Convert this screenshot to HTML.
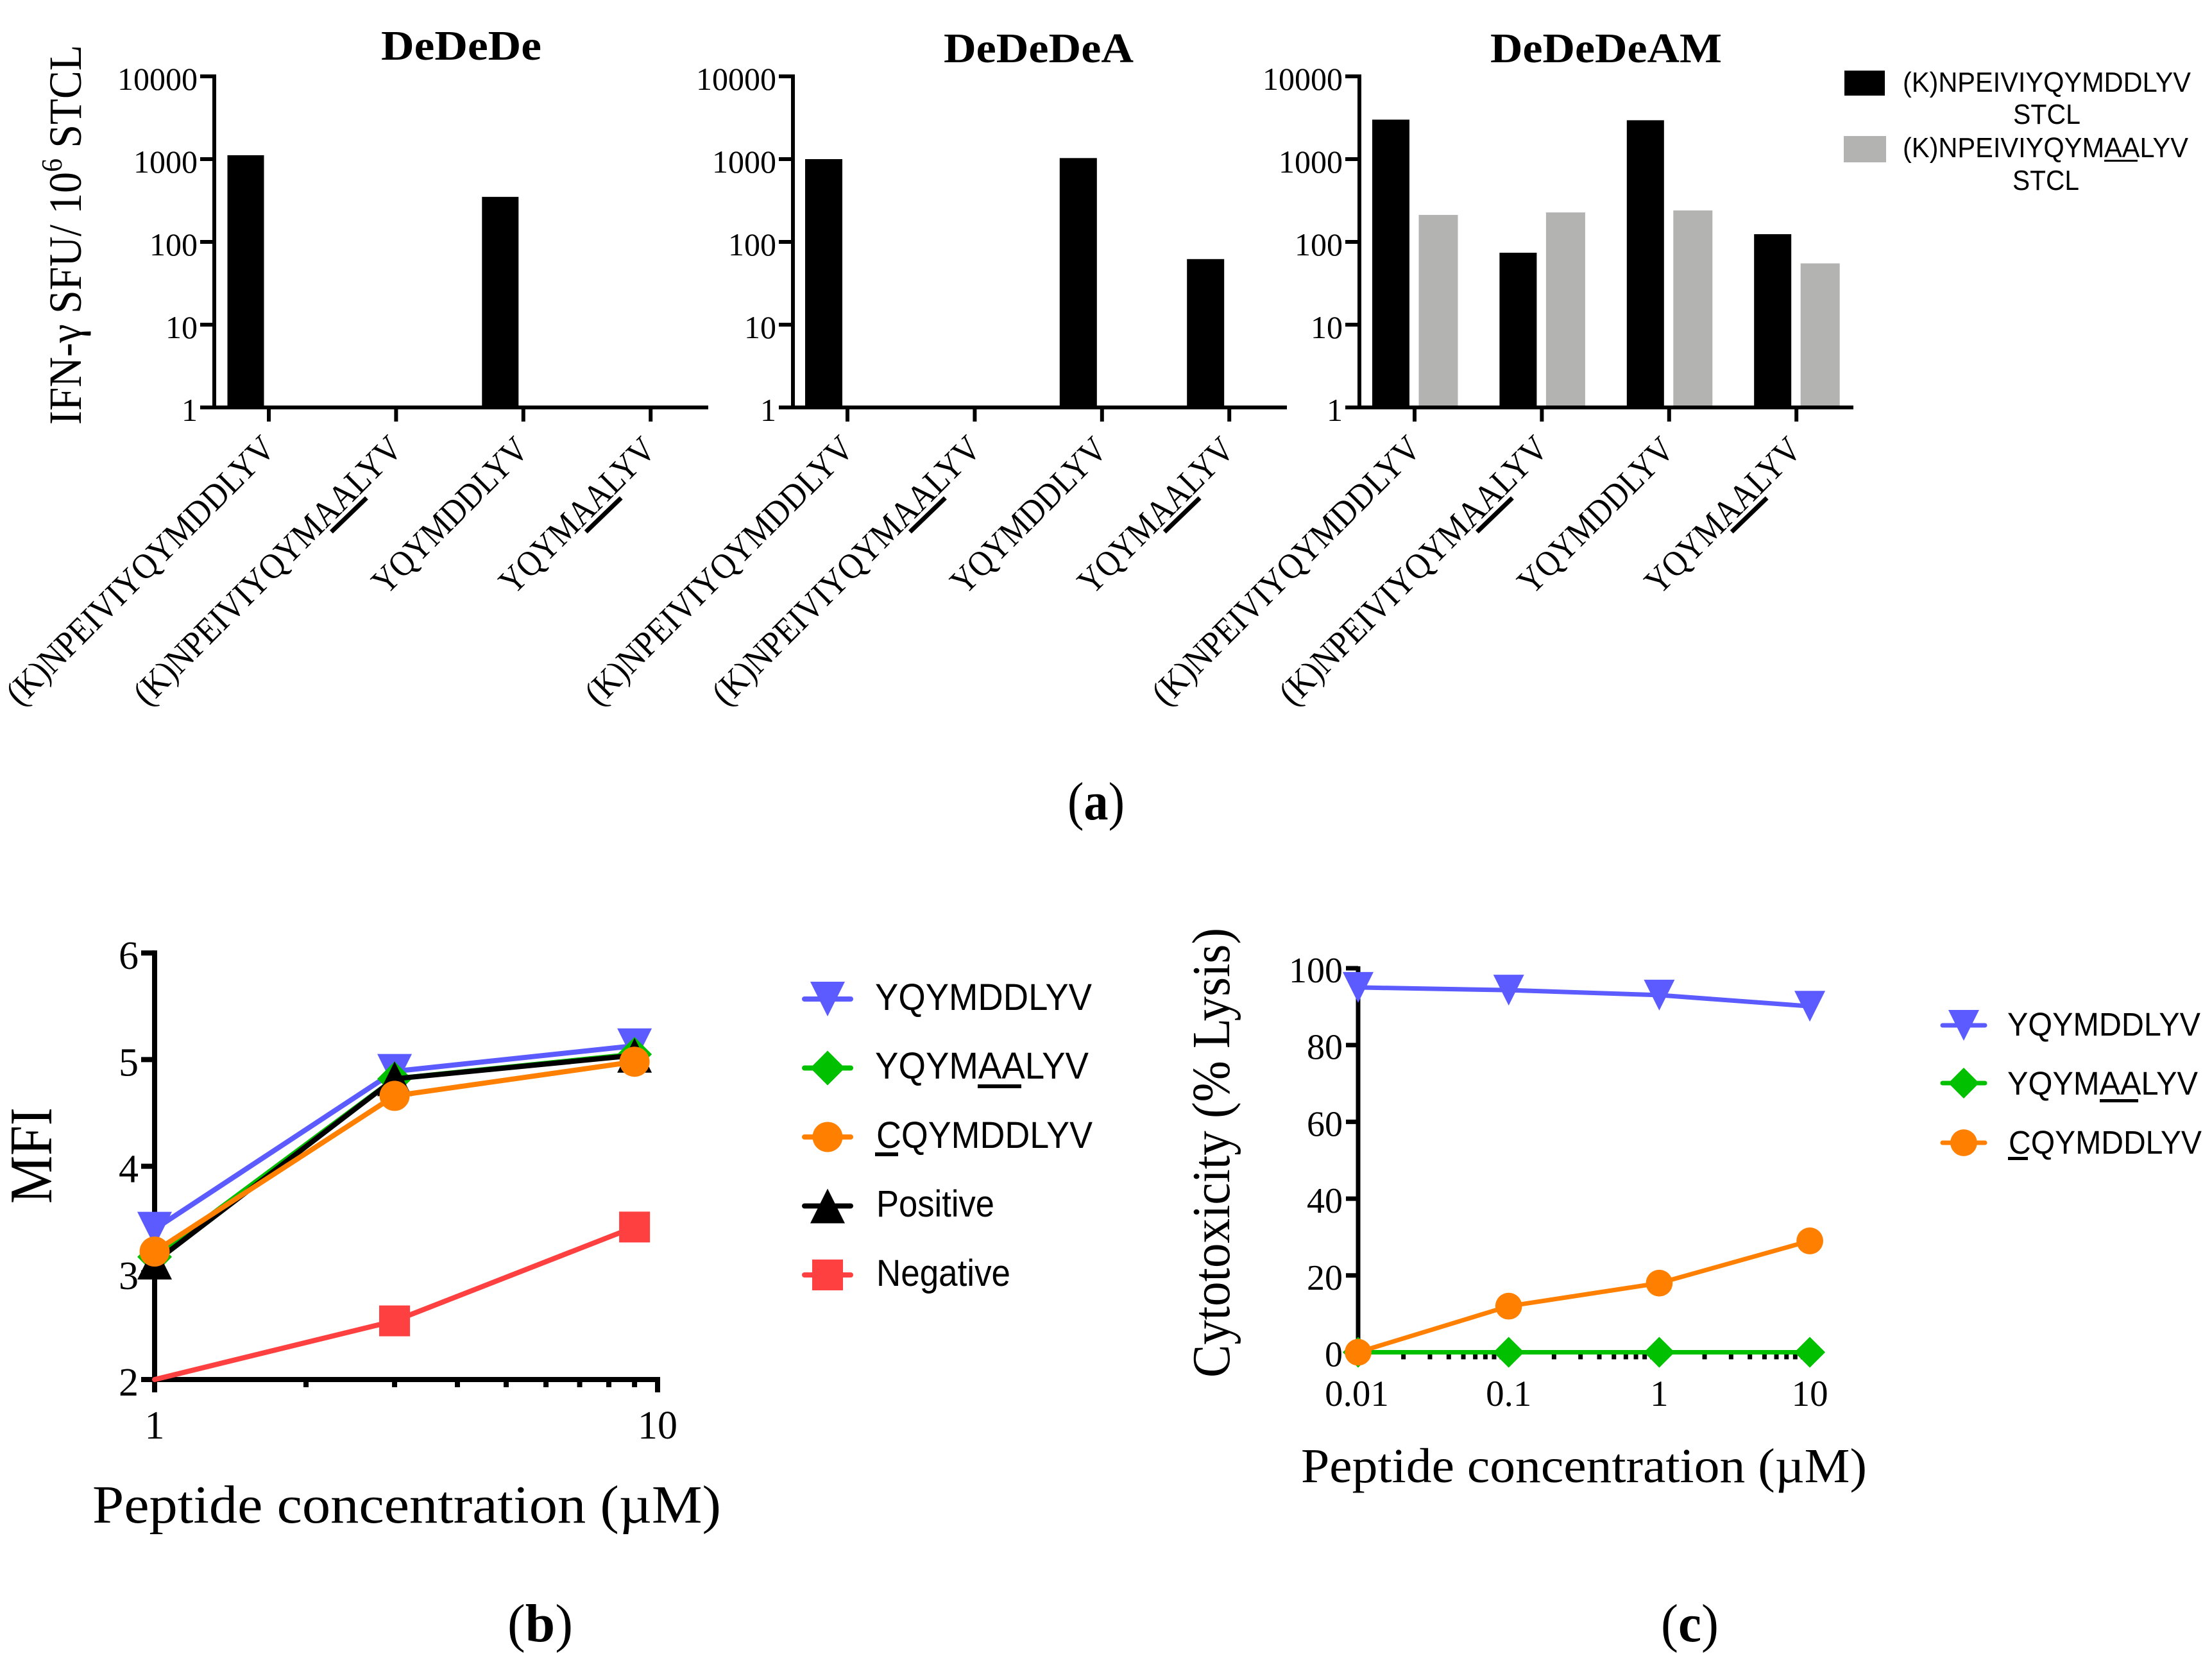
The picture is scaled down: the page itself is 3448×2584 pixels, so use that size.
<!DOCTYPE html>
<html lang="en">
<head>
<meta charset="utf-8">
<title>Peptide immunogenicity figure</title>
<style>
html,body{margin:0;padding:0;background:#fff;}
svg{display:block;}
.serif{font-family:"Liberation Serif",serif;fill:#000;}
.sans{font-family:"Liberation Sans",sans-serif;fill:#000;}
</style>
</head>
<body>
<svg id="figure" xmlns="http://www.w3.org/2000/svg" width="3448" height="2584" viewBox="0 0 3448 2584">
  <rect x="0" y="0" width="3448" height="2584" fill="#fff"/>

  <g id="panel-a"></g>
  <g id="panel-b"></g>
  <g id="panel-c"></g>

  <text class="serif" transform="translate(126,662) rotate(-90)" font-size="72" textLength="592" lengthAdjust="spacingAndGlyphs">IFN-γ SFU/ 10<tspan font-size="46" dy="-30">6</tspan><tspan dy="30"> STCL</tspan></text>
  <text class="serif" x="594" y="93" font-size="66" font-weight="bold" textLength="250" lengthAdjust="spacingAndGlyphs">DeDeDe</text>
  <text class="serif" x="1471" y="97" font-size="66" font-weight="bold" textLength="296" lengthAdjust="spacingAndGlyphs">DeDeDeA</text>
  <text class="serif" x="2323" y="97" font-size="66" font-weight="bold" textLength="361" lengthAdjust="spacingAndGlyphs">DeDeDeAM</text>

  <g>
    <rect x="2875" y="110" width="63" height="39" fill="#000"/>
    <text class="sans" x="2966" y="143" font-size="44" textLength="449" lengthAdjust="spacingAndGlyphs">(K)NPEIVIYQYMDDLYV</text>
    <text class="sans" x="3138" y="193" font-size="44" textLength="105" lengthAdjust="spacingAndGlyphs">STCL</text>
    <rect x="2874" y="212" width="66" height="41" fill="#b3b3b2"/>
    <text class="sans" x="2966" y="245" font-size="44" textLength="445" lengthAdjust="spacingAndGlyphs">(K)NPEIVIYQYMAALYV</text>
    <rect x="3280" y="249" width="52" height="3" fill="#000"/>
    <text class="sans" x="3137" y="296" font-size="44" textLength="104" lengthAdjust="spacingAndGlyphs">STCL</text>
  </g>

  <text class="serif" x="1664" y="1277" font-size="84" textLength="89" lengthAdjust="spacingAndGlyphs">(<tspan font-weight="bold">a</tspan>)</text>

  <text class="serif" transform="translate(80,1876) rotate(-90)" font-size="94" textLength="150" lengthAdjust="spacingAndGlyphs">MFI</text>
  <text class="serif" x="144" y="2373" font-size="84" textLength="980" lengthAdjust="spacingAndGlyphs">Peptide concentration (µM)</text>
  <text class="serif" x="791" y="2558" font-size="84" textLength="102" lengthAdjust="spacingAndGlyphs">(<tspan font-weight="bold">b</tspan>)</text>

  <g id="legend-b">
    <text class="sans" x="1364" y="1574" font-size="58" textLength="338" lengthAdjust="spacingAndGlyphs">YQYMDDLYV</text>
    <text class="sans" x="1364" y="1681" font-size="58" textLength="333" lengthAdjust="spacingAndGlyphs">YQYMAALYV</text>
    <rect x="1524" y="1690" width="68" height="6" fill="#000"/>
    <text class="sans" x="1366" y="1789" font-size="58" textLength="337" lengthAdjust="spacingAndGlyphs">CQYMDDLYV</text>
    <rect x="1364" y="1796" width="36" height="6" fill="#000"/>
    <text class="sans" x="1366" y="1896" font-size="58" textLength="184" lengthAdjust="spacingAndGlyphs">Positive</text>
    <text class="sans" x="1366" y="2004" font-size="58" textLength="209" lengthAdjust="spacingAndGlyphs">Negative</text>
  </g>

  <text class="serif" transform="translate(1916,2147) rotate(-90)" font-size="84" textLength="701" lengthAdjust="spacingAndGlyphs">Cytotoxicity (% Lysis)</text>
  <text class="serif" x="2028" y="2310" font-size="76" textLength="882" lengthAdjust="spacingAndGlyphs">Peptide concentration (µM)</text>
  <text class="serif" x="2589" y="2558" font-size="84" textLength="90" lengthAdjust="spacingAndGlyphs">(<tspan font-weight="bold">c</tspan>)</text>

  <g id="legend-c">
    <text class="sans" x="3129" y="1614" font-size="51" textLength="301" lengthAdjust="spacingAndGlyphs">YQYMDDLYV</text>
    <text class="sans" x="3129" y="1706" font-size="51" textLength="297" lengthAdjust="spacingAndGlyphs">YQYMAALYV</text>
    <rect x="3273" y="1713" width="60" height="5" fill="#000"/>
    <text class="sans" x="3131" y="1798" font-size="51" textLength="301" lengthAdjust="spacingAndGlyphs">CQYMDDLYV</text>
    <rect x="3130" y="1803" width="31" height="5" fill="#000"/>
  </g>
</svg>

<script>
/* Panel (a) data */
const peptideCategories = ['(K)NPEIVIYQYMDDLYV', '(K)NPEIVIYQYMAALYV', 'YQYMDDLYV', 'YQYMAALYV'];
const ifnTicks = [1, 10, 100, 1000, 10000];
const dededeValues = [1115, 1, 350, 1];
const dededeaValues = [1000, 1, 1030, 62];
const dededeamStandardValues = [3000, 74, 2950, 124];
const dededeamMutantValues = [212, 227, 240, 55];

/* Panel (b) data */
const mfiConcentrations = [1, 3, 9];
const mfiYTicks = [2, 3, 4, 5, 6];
const mfiXTicks = [1, 10];
const mfiMinorXTicks = [2, 3, 4, 5, 6, 7, 8, 9];
const mfiYqymddlyv = [3.41, 4.89, 5.13];
const mfiYqymaalyv = [3.15, 4.82, 5.05];
const mfiCqymddlyv = [3.2, 4.66, 4.98];
const mfiPositive = [3.1, 4.82, 5.04];
const mfiNegative = [2, 2.55, 3.43];

/* Panel (c) data */
const lysisConcentrations = [0.01, 0.1, 1, 10];
const lysisYTicks = [0, 20, 40, 60, 80, 100];
const lysisXTicks = [0.01, 0.1, 1, 10];
const lysisMinorMultipliers = [2, 3, 4, 5, 6, 7, 8, 9];
const lysisYqymddlyv = [95, 94.3, 93, 90.1];
const lysisYqymaalyv = [0, 0, 0, 0];
const lysisCqymddlyv = [0, 12, 18, 29];

const BLUE = '#5b5bff', GREEN = '#00c000', ORANGE = '#ff8000', RED = '#ff4040', BLACK = '#000', GRAY = '#b3b3b2';
const NS = 'http://www.w3.org/2000/svg';

function make(tag, attrs, parent, text) {
  const el = document.createElementNS(NS, tag);
  for (const k in attrs) el.setAttribute(k, attrs[k]);
  if (text !== undefined) el.textContent = text;
  parent.appendChild(el);
  return el;
}

function drawLine(parent, x1, y1, x2, y2, width, color, name) {
  const el = make('line', {x1: x1, y1: y1, x2: x2, y2: y2, stroke: color, 'stroke-width': width}, parent);
  
  
  return el;
}

function drawLabel(parent, x, y, size, anchor, value, name) {
  const el = make('text', {x: x, y: y, 'font-size': size, 'text-anchor': anchor, class: 'serif'}, parent, value);
  
  
  return el;
}

function drawMarker(parent, shape, x, y, h, color, name) {
  let el;
  if (shape === 'down') {
    el = make('polygon', {points: [x - h, y - h, x + h, y - h, x, y + h].join(','), fill: color}, parent);
  } else if (shape === 'up') {
    el = make('polygon', {points: [x - h, y + h, x + h, y + h, x, y - h].join(','), fill: color}, parent);
  } else if (shape === 'diamond') {
    el = make('polygon', {points: [x - h, y, x, y - h, x + h, y, x, y + h].join(','), fill: color}, parent);
  } else if (shape === 'square') {
    el = make('rect', {x: x - h * 0.89, y: y - h * 0.89, width: h * 1.78, height: h * 1.78, fill: color}, parent);
  } else {
    el = make('circle', {cx: x, cy: y, r: h * 0.87, fill: color}, parent);
  }
  
  
  return el;
}

/* Panel (a): log-scale bar charts */
const barY = function (v) { return 635 - Math.log10(v) * 129; };

function drawBarPanel(originX, firstTickX, seriesList, panelName) {
  const g = make('g', {}, document.getElementById('panel-a'));
  
  
  const tickX = function (i) { return firstTickX + i * 198.4; };

  seriesList.forEach(function (series) {
    series.values.forEach(function (v, i) {
      const cx = tickX(i) + series.offset;
      const top = barY(v);
      const bar = make('rect', {x: cx - series.width / 2, y: top, width: series.width, height: 635 - top, fill: series.color}, g);
      
      
    });
  });

  drawLine(g, originX, 116, originX, 638, 6, BLACK, 'y-axis-line');
  drawLine(g, originX - 22, 635, originX + 770, 635, 6, BLACK, 'x-axis-line');

  ifnTicks.forEach(function (t) {
    drawLine(g, originX - 22, barY(t), originX, barY(t), 6, BLACK, 'y-tick');
    drawLabel(g, originX - 26, barY(t) + 21, 50, 'end', String(t), 'y-tick-label');
  });

  peptideCategories.forEach(function (label, i) {
    const x = tickX(i);
    drawLine(g, x, 635, x, 657, 6, BLACK, 'x-tick');
    const isLong = label.length > 12;
    const len = isLong ? 566 : 318;
    const t = make('text', {
      transform: 'translate(' + (x + (isLong ? 13 : 11)) + ',' + (isLong ? 702 : 704) + ') rotate(-45)',
      'font-size': 56,
      'text-anchor': 'end',
      textLength: len,
      lengthAdjust: 'spacingAndGlyphs',
      class: 'serif'
    }, g, label);
    
    
    if (label.indexOf('AA') >= 0) {
      drawLine(g, x - 101, 829, x - 46, 776, 7, BLACK, 'label-underline-aa');
    }
  });
}

drawBarPanel(334, 419, [{values: dededeValues, offset: -36, width: 57, color: BLACK}], 'chart-dedede');
drawBarPanel(1236, 1321, [{values: dededeaValues, offset: -37, width: 58, color: BLACK}], 'chart-dededea');
drawBarPanel(2119, 2205, [
  {values: dededeamStandardValues, offset: -37, width: 58, color: BLACK},
  {values: dededeamMutantValues, offset: 37, width: 61, color: GRAY}
], 'chart-dededeam');

/* Shared line-series renderer */
function drawSeries(parent, xs, ys, xFn, yFn, yMin, shape, h, color, lineWidth, name) {
  const g = make('g', {}, parent);
  
  
  const pts = ys.map(function (v, i) { return xFn(xs[i]) + ',' + yFn(v); }).join(' ');
  const line = make('polyline', {points: pts, fill: 'none', stroke: color, 'stroke-width': lineWidth, 'stroke-linecap': 'round', 'stroke-linejoin': 'round'}, g);
  
  
  ys.forEach(function (v, i) {
    if (shape === 'square' && v <= yMin) return;
    drawMarker(g, shape, xFn(xs[i]), yFn(v), h, color, 'data-point');
  });
}

function drawLegendMark(parent, x, y, halfLine, shape, h, color, lineWidth, name) {
  const g = make('g', {}, parent);
  
  
  const line = drawLine(g, x - halfLine, y, x + halfLine, y, lineWidth, color, 'legend-line');
  line.setAttribute('stroke-linecap', 'round');
  drawMarker(g, shape, x, y, h, color, 'legend-marker');
}

/* Panel (b) */
const panelB = document.getElementById('panel-b');
const mfiX = function (v) { return 241 + Math.log10(v) * 784; };
const mfiY = function (v) { return 2150 - (v - 2) * 166.2; };

drawLine(panelB, mfiX(1), mfiY(6) - 4, mfiX(1), 2170, 8, BLACK, 'y-axis-line');
drawLine(panelB, 220, mfiY(2), mfiX(10) + 4, mfiY(2), 8, BLACK, 'x-axis-line');
mfiYTicks.forEach(function (t) {
  drawLine(panelB, 220, mfiY(t), mfiX(1), mfiY(t), 8, BLACK, 'y-tick');
  drawLabel(panelB, 216, mfiY(t) + 25, 62, 'end', String(t), 'y-tick-label');
});
mfiMinorXTicks.forEach(function (t) {
  drawLine(panelB, mfiX(t), mfiY(2), mfiX(t), 2162, 8, BLACK, 'x-minor-tick');
});
mfiXTicks.forEach(function (t) {
  drawLine(panelB, mfiX(t), mfiY(2), mfiX(t), 2170, 8, BLACK, 'x-tick');
  drawLabel(panelB, mfiX(t), 2242, 62, 'middle', String(t), 'x-tick-label');
});

drawSeries(panelB, mfiConcentrations, mfiNegative, mfiX, mfiY, 2, 'square', 27, RED, 8, 'series-negative');
drawSeries(panelB, mfiConcentrations, mfiYqymddlyv, mfiX, mfiY, 2, 'down', 27, BLUE, 8, 'series-yqymddlyv');
drawSeries(panelB, mfiConcentrations, mfiYqymaalyv, mfiX, mfiY, 2, 'diamond', 27, GREEN, 8, 'series-yqymaalyv');
drawSeries(panelB, mfiConcentrations, mfiPositive, mfiX, mfiY, 2, 'up', 27, BLACK, 8, 'series-positive');
drawSeries(panelB, mfiConcentrations, mfiCqymddlyv, mfiX, mfiY, 2, 'circle', 27, ORANGE, 8, 'series-cqymddlyv');

const legendB = document.getElementById('legend-b');
drawLegendMark(legendB, 1290, 1557, 36, 'down', 27, BLUE, 8, 'legend-mark-yqymddlyv');
drawLegendMark(legendB, 1290, 1664.5, 36, 'diamond', 27, GREEN, 8, 'legend-mark-yqymaalyv');
drawLegendMark(legendB, 1290, 1772, 36, 'circle', 27, ORANGE, 8, 'legend-mark-cqymddlyv');
drawLegendMark(legendB, 1290, 1879.5, 36, 'up', 27, BLACK, 8, 'legend-mark-positive');
drawLegendMark(legendB, 1290, 1987, 36, 'square', 27, RED, 8, 'legend-mark-negative');

/* Panel (c) */
const panelC = document.getElementById('panel-c');
const lysisX = function (v) { return 2117 + (Math.log10(v) + 2) * 234.7; };
const lysisY = function (v) { return 2107.5 - v * 5.985; };

drawLine(panelC, lysisX(0.01), lysisY(100) - 3, lysisX(0.01), lysisY(0) + 3, 7, BLACK, 'y-axis-line');
drawLine(panelC, 2098, lysisY(0), lysisX(10), lysisY(0), 7, BLACK, 'x-axis-line');
lysisYTicks.forEach(function (t) {
  drawLine(panelC, 2098, lysisY(t), lysisX(0.01), lysisY(t), 7, BLACK, 'y-tick');
  drawLabel(panelC, 2093, lysisY(t) + 22, 56, 'end', String(t), 'y-tick-label');
});
lysisXTicks.forEach(function (t, i) {
  drawLine(panelC, lysisX(t), lysisY(0), lysisX(t), 2125, 7, BLACK, 'x-tick');
  drawLabel(panelC, lysisX(t) - (i === 0 ? 2 : 0), 2191, 57, 'middle', String(t), 'x-tick-label');
  if (i < lysisXTicks.length - 1) {
    lysisMinorMultipliers.forEach(function (m) {
      drawLine(panelC, lysisX(t * m), lysisY(0), lysisX(t * m), 2118.5, 7, BLACK, 'x-minor-tick');
    });
  }
});

drawSeries(panelC, lysisConcentrations, lysisYqymddlyv, lysisX, lysisY, 0, 'down', 24, BLUE, 7, 'series-yqymddlyv');
drawSeries(panelC, lysisConcentrations, lysisYqymaalyv, lysisX, lysisY, 0, 'diamond', 24, GREEN, 7, 'series-yqymaalyv');
drawSeries(panelC, lysisConcentrations, lysisCqymddlyv, lysisX, lysisY, 0, 'circle', 24, ORANGE, 7, 'series-cqymddlyv');

const legendC = document.getElementById('legend-c');
drawLegendMark(legendC, 3061, 1598, 33, 'down', 24, BLUE, 7, 'legend-mark-yqymddlyv');
drawLegendMark(legendC, 3061, 1688, 33, 'diamond', 24, GREEN, 7, 'legend-mark-yqymaalyv');
drawLegendMark(legendC, 3061, 1781, 33, 'circle', 24, ORANGE, 7, 'legend-mark-cqymddlyv');
</script>
</body>
</html>
